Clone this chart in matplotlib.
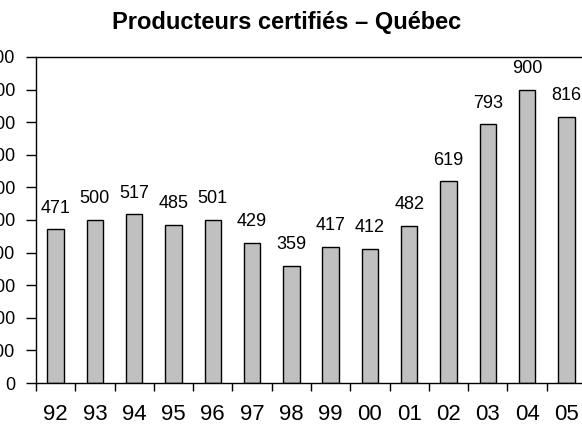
import numpy as np
import matplotlib.pyplot as plt

plt.rcParams["font.family"] = ["Liberation Sans", "DejaVu Sans"]

years = ["92", "93", "94", "95", "96", "97", "98", "99", "00", "01", "02", "03", "04", "05"]
producers = [471, 500, 517, 485, 501, 429, 359, 417, 412, 482, 619, 793, 900, 816]
y_ticks = list(range(0, 1001, 100))

fig = plt.figure(figsize=(5.82, 4.26), dpi=100)
ax = fig.add_axes([36 / 582, 43 / 426, 550 / 582, 326 / 426])

x = np.arange(len(years))
ax.bar(x, producers, width=0.42, color="#c0c0c0", edgecolor="black", linewidth=1.0)

for xi, v in zip(x, producers):
    ax.annotate(str(v), (xi, v), xytext=(0, 12), textcoords="offset points",
                ha="center", va="baseline", fontsize=13)

ax.set_xlim(-0.5, len(years) - 0.5)
ax.set_ylim(0, 1000)
ax.set_yticks(y_ticks)
ax.set_yticklabels([str(t) for t in y_ticks], fontsize=13)
ax.tick_params(axis="y", direction="out", length=7, width=1, pad=8)

ax.set_xticks(x)
ax.set_xticklabels(years, fontsize=16)
ax.set_xticks(np.arange(-0.5, len(years)), minor=True)
ax.tick_params(axis="x", which="major", length=0, pad=15)
ax.tick_params(axis="x", which="minor", direction="out", length=6, width=1)

for s in ax.spines.values():
    s.set_linewidth(1)
ax.spines["right"].set_visible(False)

fig.text(287 / 582, 1 - 29 / 426, "Producteurs certifiés – Québec", ha="center", va="baseline",
         fontsize=17, fontweight="bold")

fig.savefig("out.png", dpi=100)
